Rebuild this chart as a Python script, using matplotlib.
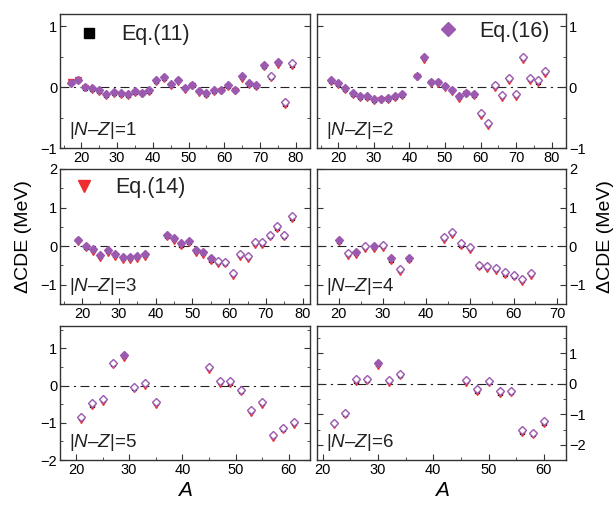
import numpy as np
import matplotlib
matplotlib.use('Agg')
import matplotlib.pyplot as plt
from matplotlib.ticker import MultipleLocator

plt.rcParams['font.family'] = ['Liberation Sans', 'DejaVu Sans']
plt.rcParams['mathtext.fontset'] = 'custom'
plt.rcParams['mathtext.it'] = 'Liberation Sans:italic'
plt.rcParams['mathtext.rm'] = 'Liberation Sans'

# |N-Z| = 1
A1 = [17, 19, 21, 23, 25, 27, 29, 31, 33, 35, 37, 39, 41, 43, 45, 47,
      49, 51, 53, 55, 57, 59, 61, 63, 65, 67, 69, 71, 73, 75, 77, 79]
eq16_1 = [0.06, 0.12, 0.00, -0.02, -0.05, -0.12, -0.08, -0.10, -0.12, -0.07, -0.09, -0.05, 0.11, 0.16, 0.05, 0.12,
          -0.01, 0.04, -0.06, -0.10, -0.05, -0.04, 0.03, -0.04, 0.18, 0.06, 0.04, 0.37, 0.19, 0.41, -0.24, 0.39]
eq11_1 = [0.08, 0.12, -0.01, -0.03, -0.06, -0.13, -0.09, -0.11, -0.13, -0.08, -0.10, -0.06, 0.10, 0.15, 0.04, 0.11,
          -0.02, 0.03, -0.07, -0.11, -0.06, -0.05, 0.02, -0.05, 0.16, 0.05, 0.02, 0.35, 0.17, 0.39, -0.27, 0.37]
eq14_1 = [0.09, 0.11, -0.02, -0.04, -0.08, -0.15, -0.11, -0.13, -0.15, -0.10, -0.12, -0.08, 0.08, 0.13, 0.02, 0.09,
          -0.04, 0.01, -0.09, -0.13, -0.08, -0.07, 0.00, -0.07, 0.14, 0.03, 0.00, 0.33, 0.15, 0.37, -0.30, 0.35]
open_1 = [73, 77, 79]

# |N-Z| = 2
A2 = [18, 20, 22, 24, 26, 28, 30, 32, 34, 36, 38,
      42, 44, 46, 48, 50, 52, 54, 56, 58, 60, 62, 64, 66, 68, 70, 72, 74, 76, 78]
eq16_2 = [0.11, 0.06, -0.02, -0.10, -0.15, -0.15, -0.20, -0.19, -0.18, -0.15, -0.12,
          0.19, 0.50, 0.09, 0.09, 0.02, -0.04, -0.15, -0.09, -0.12, -0.42, -0.59, 0.04, -0.13, 0.15, -0.11, 0.50, 0.15, 0.11, 0.26]
eq11_2 = [0.10, 0.05, -0.03, -0.11, -0.16, -0.16, -0.21, -0.20, -0.19, -0.16, -0.13,
          0.18, 0.48, 0.08, 0.08, 0.01, -0.05, -0.16, -0.10, -0.13, -0.44, -0.61, 0.02, -0.15, 0.13, -0.13, 0.48, 0.13, 0.09, 0.24]
eq14_2 = [0.08, 0.03, -0.05, -0.13, -0.18, -0.18, -0.23, -0.22, -0.21, -0.18, -0.15,
          0.16, 0.45, 0.05, 0.05, -0.02, -0.08, -0.19, -0.12, -0.15, -0.47, -0.64, -0.01, -0.18, 0.10, -0.16, 0.45, 0.10, 0.06, 0.21]
open_2 = [60, 62, 64, 66, 68, 70, 72, 74, 76, 78]

# |N-Z| = 3
A3 = [19, 21, 23, 25, 27, 29, 31, 33, 35, 37,
      43, 45, 47, 49, 51, 53, 55, 57, 59, 61, 63, 65, 67, 69, 71, 73, 75, 77]
eq16_3 = [0.17, 0.00, -0.07, -0.23, -0.10, -0.20, -0.29, -0.29, -0.26, -0.21,
          0.30, 0.21, 0.07, 0.14, -0.10, -0.15, -0.32, -0.38, -0.40, -0.70, -0.20, -0.26, 0.10, 0.10, 0.30, 0.51, 0.30, 0.77]
eq11_3 = [0.15, -0.02, -0.10, -0.26, -0.13, -0.23, -0.32, -0.32, -0.29, -0.24,
          0.27, 0.18, 0.04, 0.11, -0.13, -0.18, -0.35, -0.41, -0.43, -0.73, -0.23, -0.29, 0.07, 0.07, 0.27, 0.48, 0.27, 0.74]
eq14_3 = [0.11, -0.06, -0.14, -0.30, -0.17, -0.27, -0.36, -0.36, -0.33, -0.28,
          0.23, 0.14, 0.00, 0.07, -0.17, -0.22, -0.39, -0.45, -0.47, -0.78, -0.27, -0.33, 0.03, 0.03, 0.23, 0.44, 0.23, 0.70]
open_3 = [57, 59, 61, 63, 65, 67, 69, 71, 73, 75, 77]

# |N-Z| = 4
A4 = [20, 22, 24, 26, 28, 30, 32, 34, 36,
      44, 46, 48, 50, 52, 54, 56, 58, 60, 62, 64]
eq16_4 = [0.15, -0.18, -0.16, 0.00, 0.00, 0.03, -0.32, -0.59, -0.30,
          0.24, 0.37, 0.07, -0.03, -0.48, -0.51, -0.57, -0.68, -0.74, -0.85, -0.70]
eq11_4 = [0.13, -0.21, -0.19, -0.03, -0.03, 0.00, -0.35, -0.62, -0.33,
          0.21, 0.34, 0.04, -0.06, -0.51, -0.54, -0.60, -0.71, -0.77, -0.88, -0.73]
eq14_4 = [0.10, -0.25, -0.23, -0.07, -0.07, -0.04, -0.39, -0.66, -0.37,
          0.17, 0.30, 0.00, -0.10, -0.55, -0.58, -0.64, -0.75, -0.81, -0.94, -0.77]
open_4 = [22, 26, 30, 34, 44, 46, 48, 50, 52, 54, 56, 58, 60, 62, 64]

# |N-Z| = 5
A5 = [21, 23, 25, 27, 29, 31, 33, 35,
      45, 47, 49, 51, 53, 55, 57, 59, 61]
eq16_5 = [-0.85, -0.48, -0.36, 0.61, 0.83, -0.03, 0.06, -0.44,
          0.49, 0.12, 0.11, -0.11, -0.66, -0.44, -1.32, -1.13, -0.98]
eq11_5 = [-0.88, -0.51, -0.39, 0.58, 0.79, -0.06, 0.03, -0.47,
          0.46, 0.09, 0.08, -0.14, -0.69, -0.47, -1.36, -1.16, -1.01]
eq14_5 = [-0.92, -0.55, -0.43, 0.54, 0.75, -0.10, -0.01, -0.51,
          0.42, 0.05, 0.04, -0.18, -0.73, -0.51, -1.40, -1.20, -1.05]
open_5 = [21, 23, 25, 27, 31, 33, 35, 45, 47, 49, 51, 53, 55, 57, 59, 61]

# |N-Z| = 6
A6 = [22, 24, 26, 28, 30, 32, 34,
      46, 48, 50, 52, 54, 56, 58, 60]
eq16_6 = [-1.27, -0.96, 0.15, 0.16, 0.68, 0.12, 0.33,
          0.12, -0.18, 0.11, -0.25, -0.22, -1.53, -1.60, -1.23]
eq11_6 = [-1.30, -0.99, 0.11, 0.12, 0.64, 0.08, 0.29,
          0.08, -0.22, 0.07, -0.29, -0.26, -1.57, -1.64, -1.27]
eq14_6 = [-1.34, -1.03, 0.07, 0.08, 0.60, 0.04, 0.25,
          0.04, -0.26, 0.03, -0.33, -0.30, -1.61, -1.68, -1.31]
open_6 = [22, 24, 26, 28, 32, 34, 46, 48, 50, 52, 54, 56, 58, 60]

panels = [
    (A1, eq11_1, eq14_1, eq16_1, open_1, 1),
    (A2, eq11_2, eq14_2, eq16_2, open_2, 2),
    (A3, eq11_3, eq14_3, eq16_3, open_3, 3),
    (A4, eq11_4, eq14_4, eq16_4, open_4, 4),
    (A5, eq11_5, eq14_5, eq16_5, open_5, 5),
    (A6, eq11_6, eq14_6, eq16_6, open_6, 6),
]

purple = '#9B59B0'
red = '#EE2E2E'
W, H = 614, 505

# axes boxes in pixels: left, top, right, bottom
boxes = [(60, 14, 310, 148), (317, 14, 566, 148),
         (60, 169, 310, 304), (317, 169, 566, 304),
         (60, 326, 310, 460), (317, 326, 566, 460)]
xlims = [(14, 84), (14, 84), (14, 82), (15, 72), (17, 64), (19, 64)]
ylims = [(-1, 1.2), (-1, 1.2), (-1.5, 2.0), (-1.5, 2.0), (-2.0, 1.6), (-2.5, 1.9)]

fig = plt.figure(figsize=(W / 100, H / 100), dpi=100)

axes = []
for i, (A, e11, e14, e16, opn, nz) in enumerate(panels):
    l, t, r, b = boxes[i]
    ax = fig.add_axes([l / W, 1 - b / H, (r - l) / W, (b - t) / H])
    axes.append(ax)
    A = np.array(A)
    e16 = np.array(e16)
    hollow = np.isin(A, opn)

    ax.axhline(0, color='#222222', lw=0.8, ls=(0, (8, 4, 2, 4)), zorder=1)
    ax.plot(A, e11, 's', ms=3.2, color='black', mec='black', zorder=2)
    ax.plot(A, e14, 'v', ms=3.8, color=red, mec=red, zorder=3)
    ax.plot(A[~hollow], e16[~hollow], 'D', ms=3.9, color=purple, mec=purple, zorder=4)
    ax.plot(A[hollow], e16[hollow], 'D', ms=3.6, mfc='white', mec=purple, mew=1.0, zorder=4)

    ax.set_xlim(*xlims[i])
    ax.set_ylim(*ylims[i])
    ax.xaxis.set_major_locator(MultipleLocator(10))
    ax.xaxis.set_minor_locator(MultipleLocator(5))
    ax.yaxis.set_major_locator(MultipleLocator(1))
    ax.yaxis.set_minor_locator(MultipleLocator(0.5))
    ax.tick_params(which='both', direction='in', labelsize=10.5, color='#333333',
                   top=False, right=True, pad=2)
    ax.tick_params(which='major', length=4)
    ax.tick_params(which='minor', length=2.5)
    if i % 2 == 1:
        ax.yaxis.tick_right()
        ax.tick_params(which='both', left=True, right=True, direction='in')
        ax.yaxis.set_label_position('right')
    for s in ax.spines.values():
        s.set_color('#333333')
        s.set_linewidth(1.0)

    ax.text(0.035, 0.13, '|$N$\u2013$Z$|=%d' % nz, transform=ax.transAxes,
            fontsize=13.5, va='center', ha='left', color='#222222')

# legend-like labels
axes[0].plot([0.116], [0.86], 's', ms=6.5, color='black', transform=axes[0].transAxes, clip_on=False)
axes[0].text(0.245, 0.845, 'Eq.(11)', transform=axes[0].transAxes, fontsize=15.5,
             va='center', ha='left', color='#222222')
axes[1].plot([0.526], [0.89], 'D', ms=7, color=purple, transform=axes[1].transAxes, clip_on=False)
axes[1].text(0.65, 0.87, 'Eq.(16)', transform=axes[1].transAxes, fontsize=15.5,
             va='center', ha='left', color='#222222')
axes[2].plot([0.096], [0.874], 'v', ms=8.5, color=red, transform=axes[2].transAxes, clip_on=False)
axes[2].text(0.22, 0.865, 'Eq.(14)', transform=axes[2].transAxes, fontsize=15.5,
             va='center', ha='left', color='#222222')

axes[2].set_ylabel('\u0394CDE (MeV)', fontsize=14, labelpad=6)
axes[3].set_ylabel('\u0394CDE (MeV)', fontsize=14, labelpad=8)
axes[4].set_xlabel('$A$', fontsize=15, labelpad=3)
axes[5].set_xlabel('$A$', fontsize=15, labelpad=3)

fig.savefig('out.png', dpi=100)
